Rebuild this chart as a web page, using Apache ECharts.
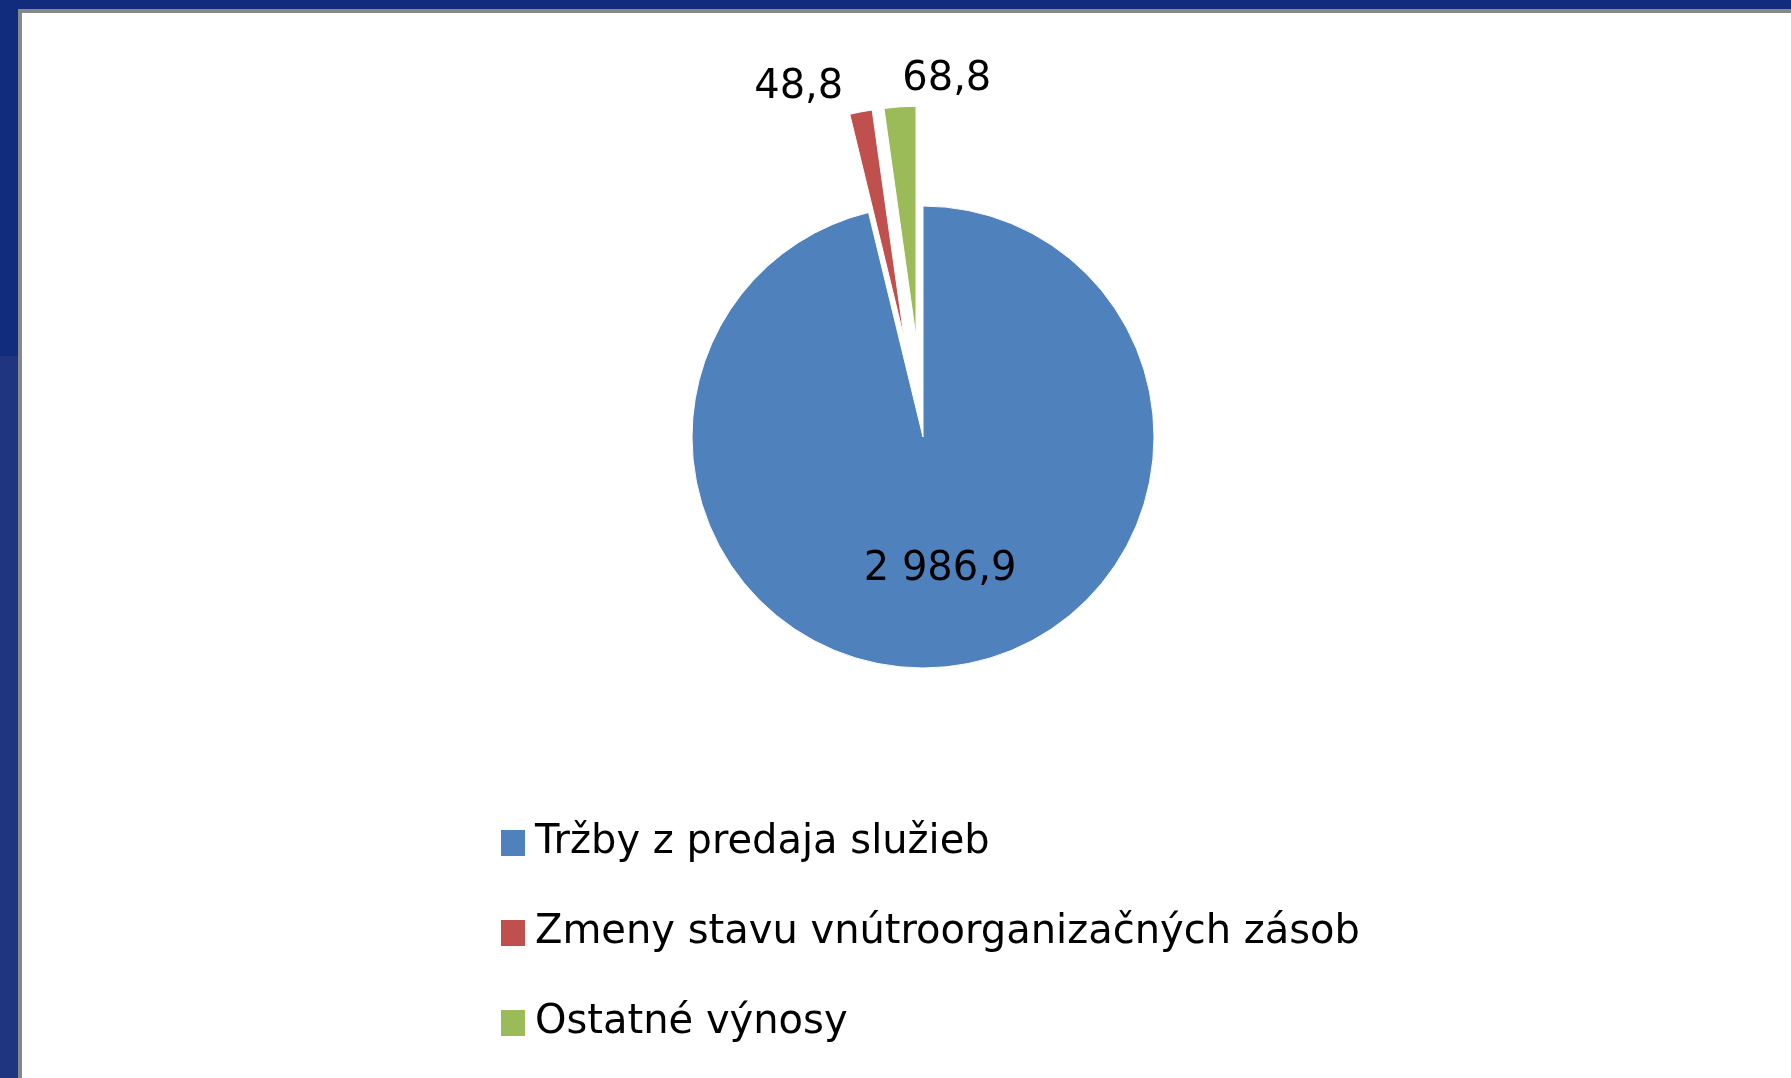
<!DOCTYPE html>
<html>
<head>
<meta charset="utf-8">
<script src="https://cdn.jsdelivr.net/npm/echarts@6/dist/echarts.min.js"></script>
<style>
  html, body { margin: 0; padding: 0; }
  body {
    width: 1791px;
    height: 1078px;
    overflow: hidden;
    background: linear-gradient(to bottom, #112c7c 0, #112c7c 356px, #1f3580 356px);
  }
  #frame {
    position: absolute;
    left: 18px;
    top: 9px;
    width: 1773px;
    height: 1069px;
    box-sizing: border-box;
    border-top: 4px solid #888888;
    border-left: 4px solid #888888;
    background: #ffffff;
  }
  #chart { width: 100%; height: 100%; }
</style>
</head>
<body>
<div id="frame"><div id="chart"></div></div>
<script>
// data
const categories = [
  'Tržby z predaja služieb',
  'Zmeny stavu vnútroorganizačných zásob',
  'Ostatné výnosy',
];
const values = [2986.9, 48.8, 68.8];
const exploded = [false, true, true];

const colors = ['#4f81bd', '#c0504d', '#9bbb59'];

// slovak number format: space thousands, comma decimal
const formatValue = v => {
  const parts = v.toFixed(1).split('.');
  return parts[0].replace(/\B(?=(\d{3})+(?!\d))/g, ' ') + ',' + parts[1];
};

const labelFont = {
  fontFamily: 'DejaVu Sans',
  fontSize: 40,
  color: '#000000',
};

const chart = echarts.init(document.getElementById('chart'), null, { renderer: 'canvas' });

const option = {
  animation: false,
  color: colors,
  legend: {
    orient: 'vertical',
    left: 472,
    top: 805,
    icon: 'rect',
    itemWidth: 26,
    itemHeight: 28,
    itemGap: 50,
    selectedMode: false,
    textStyle: {
      ...labelFont,
      lineHeight: 40,
      padding: [0, 0, 0, 4],
    },
    data: categories,
  },
  series: [
    {
      type: 'pie',
      center: [901, 424],
      radius: 231,
      startAngle: 90,
      clockwise: true,
      selectedMode: 'multiple',
      selectedOffset: 100,
      avoidLabelOverlap: false,
      itemStyle: {
        borderColor: '#ffffff',
        borderWidth: 1,
      },
      select: {
        itemStyle: { borderColor: '#ffffff', borderWidth: 1 },
      },
      emphasis: { disabled: true },
      label: {
        ...labelFont,
        formatter: p => formatValue(p.value),
      },
      labelLine: { show: false, length: 25, length2: 8 },
      labelLayout: p => {
        if (p.dataIndex === 0) return { dy: 15, dx: 3 };
        if (p.dataIndex === 2) return { align: 'left', dx: 17, dy: -2 };
        return {};
      },
      data: categories.map((name, i) => ({
        name: name,
        value: values[i],
        selected: exploded[i],
        label: { position: exploded[i] ? 'outside' : 'inside' },
      })),
    },
  ],
};

chart.setOption(option);
</script>
</body>
</html>
